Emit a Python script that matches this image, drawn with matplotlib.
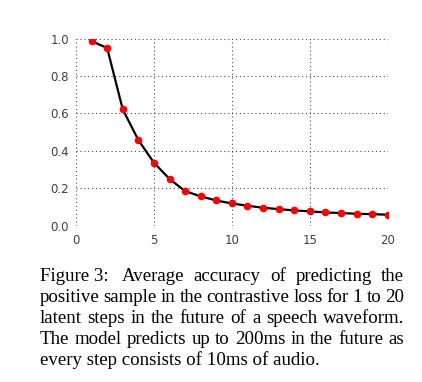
import numpy as np
import matplotlib.pyplot as plt

steps = np.arange(1, 21)
acc = [0.986, 0.950, 0.622, 0.458, 0.337, 0.250, 0.185, 0.157, 0.135, 0.119,
       0.107, 0.096, 0.089, 0.082, 0.077, 0.071, 0.068, 0.064, 0.062, 0.059]
xticks = [0, 5, 10, 15, 20]
yticks = [0.0, 0.2, 0.4, 0.6, 0.8, 1.0]
caption = ["Figure 3:  Average accuracy of predicting the",
           "positive sample in the contrastive loss for 1 to 20",
           "latent steps in the future of a speech waveform.",
           "The model predicts up to 200ms in the future as",
           "every step consists of 10ms of audio."]

fig = plt.figure(figsize=(4.22, 3.82), dpi=100)
ax = fig.add_axes([0.180, 0.409, 0.739, 0.490])
ax.plot(steps, acc, color='black', lw=1.6, zorder=3)
ax.plot(steps, acc, 'o', color='red', ms=4.5, zorder=4)
ax.set_xlim(0, 20)
ax.set_ylim(0, 1.0)
ax.set_xticks(xticks)
ax.set_yticks(yticks)
ax.set_yticklabels(['%.1f' % v for v in yticks])
ax.grid(True, color='black', linestyle=(0, (1, 2.5)), lw=0.8, alpha=0.7)
for s in ax.spines.values():
	s.set_visible(False)
ax.tick_params(length=0, labelsize=8.5, labelcolor='#404040')
ax.tick_params(axis='x', pad=6)
ax.tick_params(axis='y', pad=5)

# justified caption, word by word
fig.canvas.draw()
r = fig.canvas.get_renderer()
left, right = 40, 404
fs = 13.55
for i, line in enumerate(caption):
	yb = 1 - (281 + i*21.0)/382
	words = line.split()
	if line.startswith("Figure 3:"):
		words = ["Figure 3:", "Average", "accuracy", "of", "predicting", "the"]
	if i == len(caption) - 1:
		fig.text(left/422, yb, line, family='Liberation Serif', fontsize=fs, va='baseline')
		continue
	ts = [fig.text(0, yb, w, family='Liberation Serif', fontsize=fs, va='baseline') for w in words]
	ws = [t.get_window_extent(r).width for t in ts]
	gap = (right - left - sum(ws)) / (len(words) - 1)
	if i == 0:
		gap = (right - left - sum(ws) - 4) / (len(words) - 1)
	x = left
	for k, (t, w) in enumerate(zip(ts, ws)):
		t.set_x(x/422)
		x += w + gap + (4 if (i == 0 and k == 0) else 0)

fig.savefig('out.png', dpi=100)
